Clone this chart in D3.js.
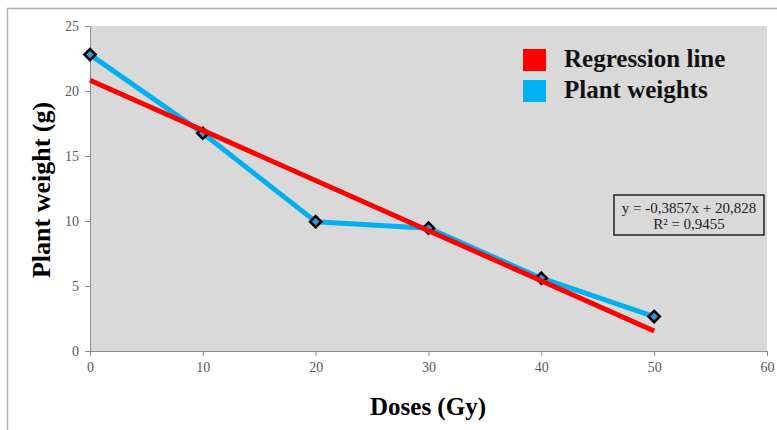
<!DOCTYPE html>
<meta charset="utf-8">
<script src="https://d3js.org/d3.v7.min.js"></script>
<style>
  body { margin: 0; background: #fff; }
</style>
<body>
<div id="my_dataviz"></div>
<script>

// data
var doses = [0, 10, 20, 30, 40, 50];
var weights = [22.8, 16.75, 9.95, 9.45, 5.6, 2.65];
var slope = -0.3857, intercept = 20.828;
var xTicks = [0, 10, 20, 30, 40, 50, 60];
var yTicks = [0, 5, 10, 15, 20, 25];
var legendNames = ["Regression line", "Plant weights"];
var legendColors = ["#ff0000", "#00b0f0"];
var eqLines = ["y = -0,3857x + 20,828", "R\u00b2 = 0,9455"];

var W = 777, H = 430;
var margin = {top: 26, right: 10, bottom: 79, left: 90};
var width = 767 - margin.left,
    height = 351 - margin.top;

var root = d3.select("#my_dataviz").append("svg")
  .attr("width", W).attr("height", H);

// outer frame (top + left only visible)
root.append("path")
  .attr("d", "M7.5," + H + "V8.5H" + W)
  .attr("fill", "none").attr("stroke", "#b0b0b0").attr("stroke-width", 1.5);

var svg = root.append("g")
  .attr("transform", "translate(" + margin.left + "," + margin.top + ")");

var x = d3.scaleLinear().domain([0, 60]).range([0, width]);
var y = d3.scaleLinear().domain([0, 25]).range([height, 0]);

// plot area
svg.append("rect")
  .attr("width", width).attr("height", height)
  .attr("fill", "#d9d9d9");

// axes
var xAxis = svg.append("g")
  .attr("transform", "translate(0," + height + ")")
  .call(d3.axisBottom(x).tickValues(xTicks).tickSize(5).tickPadding(6).tickSizeOuter(0));
var yAxis = svg.append("g")
  .call(d3.axisLeft(y).tickValues(yTicks).tickSize(5).tickPadding(6).tickSizeOuter(0));

[xAxis, yAxis].forEach(function(a) {
  a.select(".domain").attr("stroke", "#8c8c8c");
  a.selectAll(".tick line").attr("stroke", "#8c8c8c");
  a.selectAll(".tick text")
    .style("font-family", "'Liberation Serif', serif")
    .style("font-size", "14px")
    .attr("fill", "#595959");
});

// axis titles
svg.append("text")
  .attr("x", 428 - margin.left).attr("y", height + 64)
  .attr("text-anchor", "middle")
  .style("font-family", "'Liberation Serif', serif")
  .style("font-weight", "bold").style("font-size", "25px")
  .text("Doses (Gy)");

svg.append("text")
  .attr("transform", "translate(" + (-40) + "," + (190 - margin.top) + ") rotate(-90)")
  .attr("text-anchor", "middle")
  .style("font-family", "'Liberation Serif', serif")
  .style("font-weight", "bold").style("font-size", "26px")
  .text("Plant weight (g)");

var pts = doses.map(function(d, i) { return {x: d, y: weights[i]}; });

// plant weights line
svg.append("path")
  .datum(pts)
  .attr("fill", "none")
  .attr("stroke", "#00b0f0")
  .attr("stroke-width", 5)
  .attr("stroke-linejoin", "round")
  .attr("d", d3.line().x(function(d) { return x(d.x); }).y(function(d) { return y(d.y); }));

// markers
svg.selectAll(".mk")
  .data(pts)
  .enter().append("path")
    .attr("class", "mk")
    .attr("transform", function(d) { return "translate(" + x(d.x) + "," + y(d.y) + ")"; })
    .attr("d", d3.symbol().type(d3.symbolDiamond2).size(80))
    .attr("fill", "#3f8fd6")
    .attr("stroke", "#000")
    .attr("stroke-width", 2.5);

// regression line
var x0 = d3.min(doses), x1 = d3.max(doses);
svg.append("line")
  .attr("x1", x(x0)).attr("y1", y(slope * x0 + intercept))
  .attr("x2", x(x1)).attr("y2", y(slope * x1 + intercept))
  .attr("stroke", "#ff0000")
  .attr("stroke-width", 5);

// legend
var leg = root.append("g").attr("transform", "translate(523,49)");
legendNames.forEach(function(n, i) {
  leg.append("rect")
    .attr("x", 0).attr("y", i * 31)
    .attr("width", 23).attr("height", 22)
    .attr("fill", legendColors[i]);
  leg.append("text")
    .attr("x", 41).attr("y", i * 31 + 18)
    .style("font-family", "'Liberation Serif', serif")
    .style("font-weight", "bold").style("font-size", "25px")
    .attr("fill", "#111")
    .text(n);
});

// equation box
var eq = root.append("g").attr("transform", "translate(614,195)");
eq.append("rect")
  .attr("width", 150).attr("height", 40)
  .attr("fill", "#d9d9d9")
  .attr("stroke", "#222").attr("stroke-width", 1.5);
eqLines.forEach(function(t, i) {
  eq.append("text")
    .attr("x", 75).attr("y", 17.5 + i * 16.5)
    .attr("text-anchor", "middle")
    .style("font-family", "'Liberation Serif', serif")
    .style("font-size", "15px")
    .attr("fill", "#222")
    .text(t);
});

</script>
</body>
